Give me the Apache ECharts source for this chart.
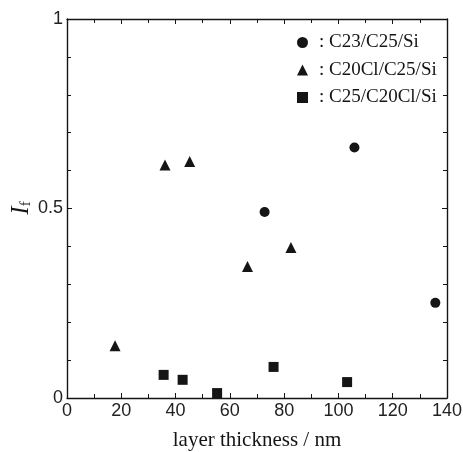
<!DOCTYPE html>
<html>
<head>
<meta charset="utf-8">
<script src="https://cdn.jsdelivr.net/npm/echarts@6/dist/echarts.min.js"></script>
<style>
  html, body { margin: 0; padding: 0; background: #fff; }
  #chart { width: 463px; height: 452px; }
</style>
</head>
<body>
<div id="chart"></div>
<script>
// data: [layer thickness (nm), I_f]
const c23 = [[72.8, 0.491], [105.9, 0.661], [135.7, 0.251]];
const c20cl = [[17.7, 0.138], [36.1, 0.615], [45.2, 0.624], [66.5, 0.347], [82.5, 0.397]];
const c25 = [[35.6, 0.061], [42.6, 0.048], [55.3, 0.013], [76.1, 0.082], [103.2, 0.042]];
const seriesNames = ['C23/C25/Si', 'C20Cl/C25/Si', 'C25/C20Cl/Si'];

const ink = '#151515';
const serif = '"Liberation Serif", "DejaVu Serif", serif';
const sans = '"Liberation Sans", Arial, sans-serif';

const chart = echarts.init(document.getElementById('chart'));

const boxAxis = {
  axisLine: { show: true, onZero: false, lineStyle: { color: ink, width: 1.4 } },
  axisTick: { show: true, inside: true, length: 5, lineStyle: { color: ink } },
  minorTick: { show: true, length: 4, lineStyle: { color: ink } },
  splitLine: { show: false },
  minorSplitLine: { show: false }
};

chart.setOption({
  animation: false,
  // keep the plot box fixed, labels may sit near the edge
  grid: { left: 67, right: 16, top: 19, bottom: 54, containLabel: false, outerBoundsMode: 'none' },
  legend: {
    orient: 'vertical',
    left: 292,
    top: 28,
    itemWidth: 11,
    itemHeight: 11,
    itemGap: 8.5,
    data: [
      { name: seriesNames[0], icon: 'circle' },
      { name: seriesNames[1], icon: 'triangle' },
      { name: seriesNames[2], icon: 'rect' }
    ],
    formatter: name => ': ' + name,
    textStyle: { fontFamily: serif, fontSize: 19, lineHeight: 19, color: ink, padding: [0, 0, 0, 6] }
  },
  xAxis: [
    Object.assign({}, boxAxis, {
      type: 'value', min: 0, max: 140, interval: 20,
      minorTick: Object.assign({}, boxAxis.minorTick, { splitNumber: 2 }),
      axisLabel: { fontFamily: sans, fontSize: 18, color: '#222', margin: 4 },
      name: 'layer thickness / nm',
      nameLocation: 'middle',
      nameGap: 32,
      nameTextStyle: { fontFamily: serif, fontSize: 21, color: ink }
    }),
    Object.assign({}, boxAxis, {
      type: 'value', min: 0, max: 140, interval: 20, position: 'top',
      minorTick: Object.assign({}, boxAxis.minorTick, { splitNumber: 2 }),
      axisLabel: { show: false }
    })
  ],
  yAxis: [
    Object.assign({}, boxAxis, {
      type: 'value', min: 0, max: 1, interval: 0.5,
      minorTick: Object.assign({}, boxAxis.minorTick, { splitNumber: 5 }),
      axisLabel: { fontFamily: sans, fontSize: 18, color: '#222', margin: 4 }
    }),
    Object.assign({}, boxAxis, {
      type: 'value', min: 0, max: 1, interval: 0.5, position: 'right',
      minorTick: Object.assign({}, boxAxis.minorTick, { splitNumber: 5 }),
      axisLabel: { show: false }
    })
  ],
  graphic: [{
    type: 'text',
    x: 21,
    y: 208,
    rotation: Math.PI / 2,
    style: {
      text: '{i|I}{s|f}',
      align: 'center',
      verticalAlign: 'middle',
      rich: {
        i: { fontFamily: serif, fontStyle: 'italic', fontSize: 25, fill: ink },
        s: { fontFamily: serif, fontSize: 15, fill: ink, padding: [10, 0, 0, 0] }
      }
    }
  }],
  series: [
    { name: seriesNames[0], type: 'scatter', symbol: 'circle', symbolSize: 10, data: c23, itemStyle: { color: ink, opacity: 1 } },
    { name: seriesNames[1], type: 'scatter', symbol: 'triangle', symbolSize: 11, data: c20cl, itemStyle: { color: ink, opacity: 1 } },
    { name: seriesNames[2], type: 'scatter', symbol: 'rect', symbolSize: 10, data: c25, itemStyle: { color: ink, opacity: 1 } }
  ]
});
</script>
</body>
</html>
